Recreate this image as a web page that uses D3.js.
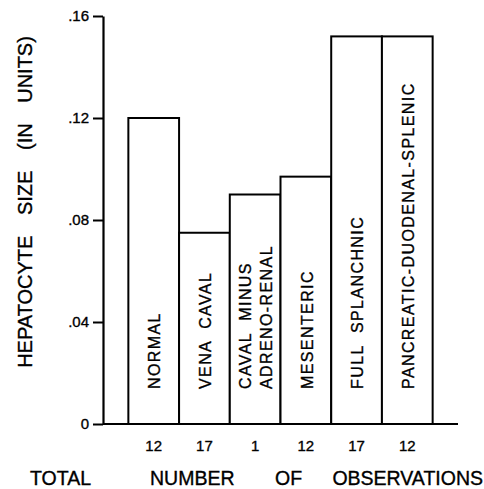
<!DOCTYPE html>
<html><head><meta charset="utf-8">
<script src="https://cdn.jsdelivr.net/npm/d3@7"></script>
<style>
html,body{margin:0;padding:0;background:#fff;}
svg{display:block;}
text{font-family:"Liberation Sans",Arial,sans-serif;fill:#000;stroke:#000;stroke-width:0.35;}
</style></head>
<body>
<script>
const categories = ["NORMAL","VENA CAVAL","CAVAL MINUS|ADRENO-RENAL","MESENTERIC","FULL SPLANCHNIC","PANCREATIC-DUODENAL-SPLENIC"];
const values = [0.120, 0.075, 0.090, 0.097, 0.152, 0.152];
const observations = ["12","17","1","12","17","12"];
const yTicks = [0, 0.04, 0.08, 0.12, 0.16];
const yTitle = "HEPATOCYTE SIZE (IN UNITS)";
const xTitleWords = ["TOTAL","NUMBER","OF","OBSERVATIONS"];

const W = 484, H = 489;
const svg = d3.select("body").append("svg").attr("width", W).attr("height", H);

const x0 = 103, x1 = 458, yBase = 424, yTop = 16;
const x = d3.scaleBand().domain(categories).range([x0, x1]).paddingInner(0).paddingOuter(0.5);
const y = d3.scaleLinear().domain([0, 0.16]).range([yBase, yTop]);

// bars
svg.append("g").selectAll("rect").data(categories).join("rect")
  .attr("x", d => x(d)).attr("width", x.bandwidth())
  .attr("y", (d,i) => y(values[i])).attr("height", (d,i) => yBase - y(values[i]))
  .attr("fill", "#fff").attr("stroke", "#000").attr("stroke-width", 2);

// baseline
svg.append("line").attr("x1", x0).attr("x2", x1).attr("y1", yBase).attr("y2", yBase)
  .attr("stroke", "#000").attr("stroke-width", 2.2);

// y axis
const fmt = d => d === 0 ? "0" : d3.format(".2f")(d).replace(/^0/, "");
const yAxis = d3.axisLeft(y).tickValues(yTicks).tickFormat(fmt).tickSize(10).tickPadding(4).tickSizeOuter(0);
const ga = svg.append("g").attr("transform", `translate(${x0},0)`).call(yAxis);
ga.select(".domain").attr("stroke", "#000").attr("stroke-width", 2.2);
ga.selectAll(".tick line").attr("stroke", "#000").attr("stroke-width", 2);
ga.selectAll(".tick text").attr("font-size", 15).attr("font-family", "Liberation Sans, Arial, sans-serif").attr("fill", "#000");

// bar labels (rotated)
const labelG = svg.append("g");
categories.forEach((c, i) => {
  const lines = c.split("|");
  const cx = x(c) + x.bandwidth() / 2 + 1;
  const n = lines.length;
  lines.forEach((ln, j) => {
    const off = n === 1 ? 0 : (j === 0 ? -11 : 10);
    labelG.append("text")
      .attr("transform", `translate(${cx + off},389) rotate(-90)`)
      .attr("dy", "0.36em")
      .attr("font-size", 16).attr("letter-spacing", 1.4).attr("word-spacing", 6)
      .text(ln);
  });
});

// observation counts
svg.append("g").selectAll("text").data(categories).join("text")
  .attr("x", d => x(d) + x.bandwidth() / 2)
  .attr("y", 451).attr("text-anchor", "middle").attr("font-size", 15)
  .text((d, i) => observations[i]);

// x title
const wordX = [30, 150, 275, 483];
const xt = svg.append("text").attr("y", 485).attr("font-size", 19.5);
xTitleWords.forEach((w, i) => {
  const last = i === xTitleWords.length - 1;
  xt.append("tspan").attr("x", wordX[i]).attr("text-anchor", last ? "end" : "start")
    .text(w + (last ? "" : " "));
});

// y title
svg.append("text").attr("transform", "translate(32,202) rotate(-90)")
  .attr("text-anchor", "middle").attr("font-size", 20).attr("word-spacing", 15).text(yTitle);
</script>
</body></html>
